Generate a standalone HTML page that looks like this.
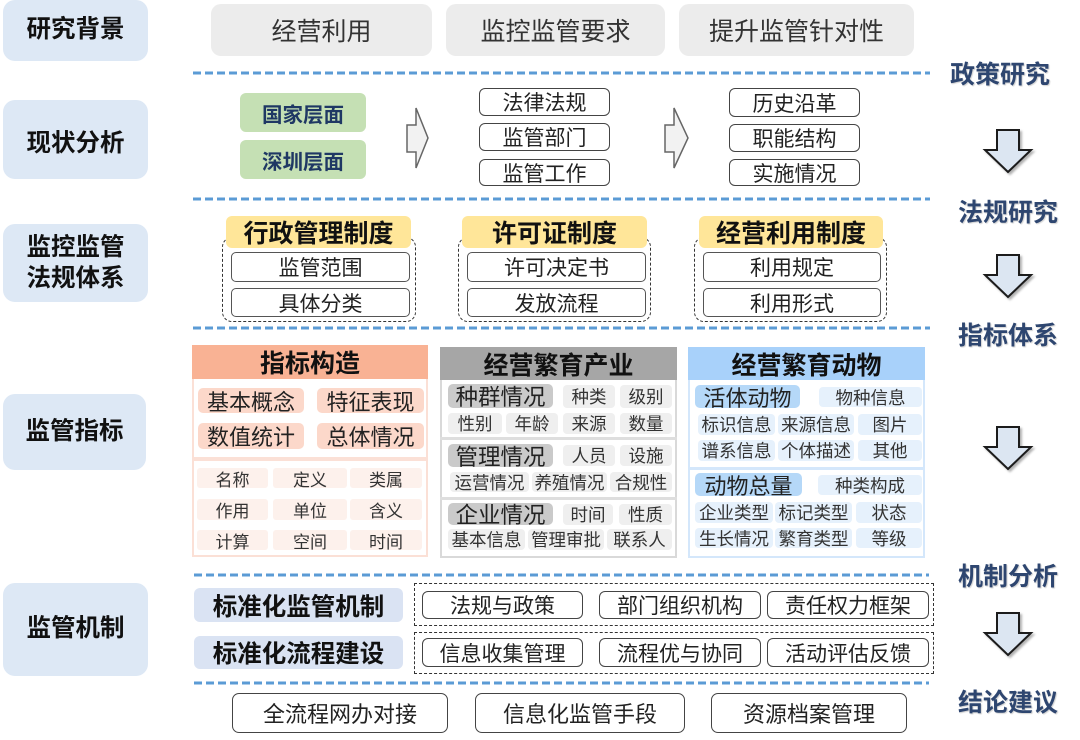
<!DOCTYPE html>
<html><head><meta charset="utf-8">
<style>
*{margin:0;padding:0;box-sizing:border-box}
body{width:1080px;height:740px;background:#fff;position:relative;overflow:hidden;font-family:"Liberation Sans","Noto Sans CJK SC",sans-serif;color:#222}
.b{position:absolute;display:flex;align-items:center;justify-content:center;white-space:nowrap}
.L{background:#dde8f5;border-radius:12px;font-weight:bold;font-size:24.5px;color:#111;line-height:1.25;text-align:center}
.g{background:#ececec;border-radius:10px;font-size:25px;color:#333}
.gr{background:#c5e0b4;border-radius:6px;font-weight:bold;font-size:20.5px;color:#1f3864}
.o{border:1.5px solid #444;border-radius:6px;background:#fff;font-size:21px;color:#222}
.R{font-weight:bold;font-size:25px;color:#2e4670;text-shadow:1px 1px 1px rgba(0,0,0,.18)}
.tab{background:#ffe699;border-radius:6px;font-weight:bold;font-size:25px;color:#111}
.dc{position:absolute;border:1.5px dashed #333;border-radius:10px}
.dq{position:absolute;border:1.5px dashed #333}
.ib{border:1.5px solid #555;border-radius:5px;background:#fff;font-size:21px;color:#222}
.panel{position:absolute;background:#fff}
.h{font-weight:bold;font-size:25px;color:#111}
.p1{background:#fcd8ca;border-radius:5px;font-size:22px;color:#222}
.c1{background:#fdf1ec;border-radius:3px;font-size:17px;color:#333}
.p2{background:#cacaca;border-radius:5px;font-size:22.5px;color:#222}
.c2{background:#efefef;border-radius:4px;font-size:17.5px;color:#333}
.p3{background:#b5d8f8;border-radius:5px;font-size:22px;color:#222}
.c3{background:#e6f1fc;border-radius:4px;font-size:17.5px;color:#333}
.M{background:#dae3f3;border-radius:6px;font-weight:bold;font-size:24.5px;color:#111}
.ob{border:1.5px solid #444;border-radius:6px;background:#fff;font-size:21px;color:#222}
.bb{border:1.5px solid #444;border-radius:7px;background:#fff;font-size:22px;color:#222}
</style></head><body>

<!-- Left column -->
<div class="b L" style="left:3px;top:0;width:145px;height:61px">研究背景</div>
<div class="b L" style="left:3px;top:100px;width:145px;height:79px;padding-top:10px">现状分析</div>
<div class="b L" style="left:3px;top:224px;width:145px;height:78px;padding-top:2px">监控监管<br>法规体系</div>
<div class="b L" style="left:3px;top:394px;width:143px;height:76px">监管指标</div>
<div class="b L" style="left:3px;top:583px;width:145px;height:93px">监管机制</div>

<!-- Top gray -->
<div class="b g" style="left:211px;top:4px;width:221px;height:52px">经营利用</div>
<div class="b g" style="left:446px;top:4px;width:219px;height:52px">监控监管要求</div>
<div class="b g" style="left:679px;top:4px;width:235px;height:52px">提升监管针对性</div>

<!-- Section 2 -->
<div class="b gr" style="left:240px;top:93px;width:126px;height:39px">国家层面</div>
<div class="b gr" style="left:240px;top:140px;width:126px;height:39px">深圳层面</div>
<div class="b o" style="left:479px;top:88px;width:131px;height:28px">法律法规</div>
<div class="b o" style="left:479px;top:123px;width:131px;height:28px">监管部门</div>
<div class="b o" style="left:479px;top:159px;width:131px;height:27px">监管工作</div>
<div class="b o" style="left:729px;top:88px;width:131px;height:29px">历史沿革</div>
<div class="b o" style="left:729px;top:124px;width:131px;height:28px">职能结构</div>
<div class="b o" style="left:729px;top:159px;width:131px;height:27px">实施情况</div>

<!-- Section 3 -->
<div class="dc" style="left:222px;top:237px;width:194px;height:85px"></div>
<div class="dc" style="left:458px;top:237px;width:193px;height:85px"></div>
<div class="dc" style="left:694px;top:237px;width:193px;height:85px"></div>
<div class="b tab" style="left:226px;top:216px;width:185px;height:32px">行政管理制度</div>
<div class="b tab" style="left:462px;top:216px;width:185px;height:32px">许可证制度</div>
<div class="b tab" style="left:699px;top:216px;width:184px;height:32px">经营利用制度</div>
<div class="b ib" style="left:231px;top:252px;width:179px;height:30px">监管范围</div>
<div class="b ib" style="left:231px;top:288px;width:179px;height:29px">具体分类</div>
<div class="b ib" style="left:467px;top:252px;width:179px;height:30px">许可决定书</div>
<div class="b ib" style="left:467px;top:288px;width:179px;height:29px">发放流程</div>
<div class="b ib" style="left:703px;top:252px;width:178px;height:30px">利用规定</div>
<div class="b ib" style="left:703px;top:288px;width:178px;height:29px">利用形式</div>

<!-- Section 4 Panel 1 -->
<div class="panel" style="left:192px;top:345px;width:236px;height:212px;border:2px solid #fbe0d6"></div>
<div class="b h" style="left:192px;top:345px;width:236px;height:34px;background:#f9b294">指标构造</div>
<div style="position:absolute;left:192px;top:457px;width:236px;height:4px;background:#fbe0d6"></div>
<div class="b p1" style="left:198px;top:388px;width:106px;height:25px">基本概念</div>
<div class="b p1" style="left:317px;top:388px;width:107px;height:25px">特征表现</div>
<div class="b p1" style="left:198px;top:423px;width:106px;height:26px">数值统计</div>
<div class="b p1" style="left:317px;top:423px;width:107px;height:26px">总体情况</div>
<div class="b c1" style="left:197px;top:468px;width:71px;height:20px">名称</div>
<div class="b c1" style="left:273px;top:468px;width:74px;height:20px">定义</div>
<div class="b c1" style="left:350px;top:468px;width:72px;height:20px">类属</div>
<div class="b c1" style="left:197px;top:499px;width:71px;height:21px">作用</div>
<div class="b c1" style="left:273px;top:499px;width:74px;height:21px">单位</div>
<div class="b c1" style="left:350px;top:499px;width:72px;height:21px">含义</div>
<div class="b c1" style="left:197px;top:530px;width:71px;height:20px">计算</div>
<div class="b c1" style="left:273px;top:530px;width:74px;height:20px">空间</div>
<div class="b c1" style="left:350px;top:530px;width:72px;height:20px">时间</div>

<!-- Panel 2 -->
<div class="panel" style="left:440px;top:347px;width:237px;height:211px;border:2px solid #d9d9d9"></div>
<div class="b h" style="left:440px;top:347px;width:237px;height:33px;background:#a6a6a6">经营繁育产业</div>
<div style="position:absolute;left:440px;top:437px;width:237px;height:3px;background:#dedede"></div>
<div style="position:absolute;left:440px;top:497px;width:237px;height:3px;background:#dedede"></div>
<div class="b p2" style="left:448px;top:384px;width:105px;height:24px">种群情况</div>
<div class="b c2" style="left:563px;top:385px;width:52px;height:23px">种类</div>
<div class="b c2" style="left:620px;top:385px;width:52px;height:23px">级别</div>
<div class="b c2" style="left:448px;top:413px;width:54px;height:21px">性别</div>
<div class="b c2" style="left:506px;top:413px;width:52px;height:21px">年龄</div>
<div class="b c2" style="left:563px;top:413px;width:52px;height:21px">来源</div>
<div class="b c2" style="left:620px;top:413px;width:52px;height:21px">数量</div>
<div class="b p2" style="left:448px;top:444px;width:105px;height:23px">管理情况</div>
<div class="b c2" style="left:563px;top:445px;width:52px;height:21px">人员</div>
<div class="b c2" style="left:620px;top:445px;width:52px;height:21px">设施</div>
<div class="b c2" style="left:450px;top:472px;width:79px;height:20px">运营情况</div>
<div class="b c2" style="left:532px;top:472px;width:75px;height:20px">养殖情况</div>
<div class="b c2" style="left:610px;top:472px;width:62px;height:20px">合规性</div>
<div class="b p2" style="left:448px;top:503px;width:105px;height:22px">企业情况</div>
<div class="b c2" style="left:563px;top:504px;width:50px;height:21px">时间</div>
<div class="b c2" style="left:619px;top:504px;width:53px;height:21px">性质</div>
<div class="b c2" style="left:448px;top:529px;width:77px;height:21px">基本信息</div>
<div class="b c2" style="left:528px;top:529px;width:76px;height:21px">管理审批</div>
<div class="b c2" style="left:607px;top:529px;width:65px;height:21px">联系人</div>

<!-- Panel 3 -->
<div class="panel" style="left:688px;top:347px;width:237px;height:211px;border:2px solid #d4e7fb"></div>
<div class="b h" style="left:688px;top:347px;width:237px;height:33px;background:#a8d1fa">经营繁育动物</div>
<div style="position:absolute;left:688px;top:467px;width:237px;height:3px;background:#d4e7fb"></div>
<div class="b p3" style="left:695px;top:385px;width:105px;height:23px">活体动物</div>
<div class="b c3" style="left:819px;top:387px;width:103px;height:20px">物种信息</div>
<div class="b c3" style="left:698px;top:414px;width:77px;height:21px">标识信息</div>
<div class="b c3" style="left:778px;top:414px;width:76px;height:21px">来源信息</div>
<div class="b c3" style="left:858px;top:414px;width:64px;height:21px">图片</div>
<div class="b c3" style="left:698px;top:440px;width:77px;height:21px">谱系信息</div>
<div class="b c3" style="left:778px;top:440px;width:76px;height:21px">个体描述</div>
<div class="b c3" style="left:858px;top:440px;width:64px;height:21px">其他</div>
<div class="b p3" style="left:695px;top:473px;width:107px;height:23px">动物总量</div>
<div class="b c3" style="left:818px;top:475px;width:104px;height:20px">种类构成</div>
<div class="b c3" style="left:695px;top:502px;width:78px;height:21px">企业类型</div>
<div class="b c3" style="left:775px;top:502px;width:77px;height:21px">标记类型</div>
<div class="b c3" style="left:856px;top:502px;width:66px;height:21px">状态</div>
<div class="b c3" style="left:695px;top:528px;width:78px;height:20px">生长情况</div>
<div class="b c3" style="left:775px;top:528px;width:77px;height:20px">繁育类型</div>
<div class="b c3" style="left:856px;top:528px;width:66px;height:20px">等级</div>

<!-- Section 5 -->
<div class="b M" style="left:194px;top:588px;width:209px;height:34px">标准化监管机制</div>
<div class="b M" style="left:194px;top:636px;width:209px;height:33px">标准化流程建设</div>
<div class="dq" style="left:414px;top:583px;width:520px;height:43px"></div>
<div class="dq" style="left:414px;top:632px;width:520px;height:42px"></div>
<div class="b ob" style="left:422px;top:591px;width:161px;height:28px">法规与政策</div>
<div class="b ob" style="left:599px;top:591px;width:162px;height:28px">部门组织机构</div>
<div class="b ob" style="left:767px;top:591px;width:162px;height:28px">责任权力框架</div>
<div class="b ob" style="left:422px;top:638px;width:161px;height:29px">信息收集管理</div>
<div class="b ob" style="left:599px;top:638px;width:162px;height:29px">流程优与协同</div>
<div class="b ob" style="left:767px;top:638px;width:162px;height:29px">活动评估反馈</div>

<!-- Bottom -->
<div class="b bb" style="left:232px;top:693px;width:216px;height:40px">全流程网办对接</div>
<div class="b bb" style="left:475px;top:693px;width:210px;height:40px">信息化监管手段</div>
<div class="b bb" style="left:711px;top:693px;width:196px;height:40px">资源档案管理</div>

<!-- Right labels -->
<div class="b R" style="left:940px;top:59px;width:120px;height:28px">政策研究</div>
<div class="b R" style="left:948px;top:197px;width:120px;height:28px">法规研究</div>
<div class="b R" style="left:948px;top:320px;width:120px;height:28px">指标体系</div>
<div class="b R" style="left:948px;top:561px;width:120px;height:28px">机制分析</div>
<div class="b R" style="left:948px;top:687px;width:120px;height:28px">结论建议</div>

<svg style="position:absolute;left:0;top:0" width="1080" height="740" viewBox="0 0 1080 740">
<defs>
<filter id="sh" x="-20%" y="-20%" width="150%" height="150%"><feDropShadow dx="2" dy="2" stdDeviation="1" flood-color="#000" flood-opacity="0.3"/></filter>
<g id="da"><polygon points="-11,0 11,0 11,20 23,20 0,42 -23,20 -11,20" fill="#dce6f2" stroke="#1a1a1a" stroke-width="2" stroke-linejoin="miter"/></g>
</defs>
<g stroke="#5b9bd5" stroke-width="3" stroke-dasharray="8 4">
<line x1="193" y1="73" x2="930" y2="73"/>
<line x1="193" y1="199" x2="930" y2="199"/>
<line x1="193" y1="328" x2="930" y2="328"/>
<line x1="194" y1="575" x2="929" y2="575"/>
<line x1="194" y1="683" x2="929" y2="683"/>
</g>
<polygon points="407,125 416,125 416,108 428,138 416,168 416,152 407,152" fill="#f2f2f2" stroke="#666" stroke-width="1.5"/>
<polygon points="665,125 674,125 674,108 688,138 674,168 674,152 665,152" fill="#f2f2f2" stroke="#666" stroke-width="1.5"/>
<g filter="url(#sh)">
<use href="#da" x="1008" y="130"/>
<use href="#da" x="1008" y="255"/>
<use href="#da" x="1008" y="427"/>
<use href="#da" x="1008" y="613"/>
</g>
</svg>
</body></html>
